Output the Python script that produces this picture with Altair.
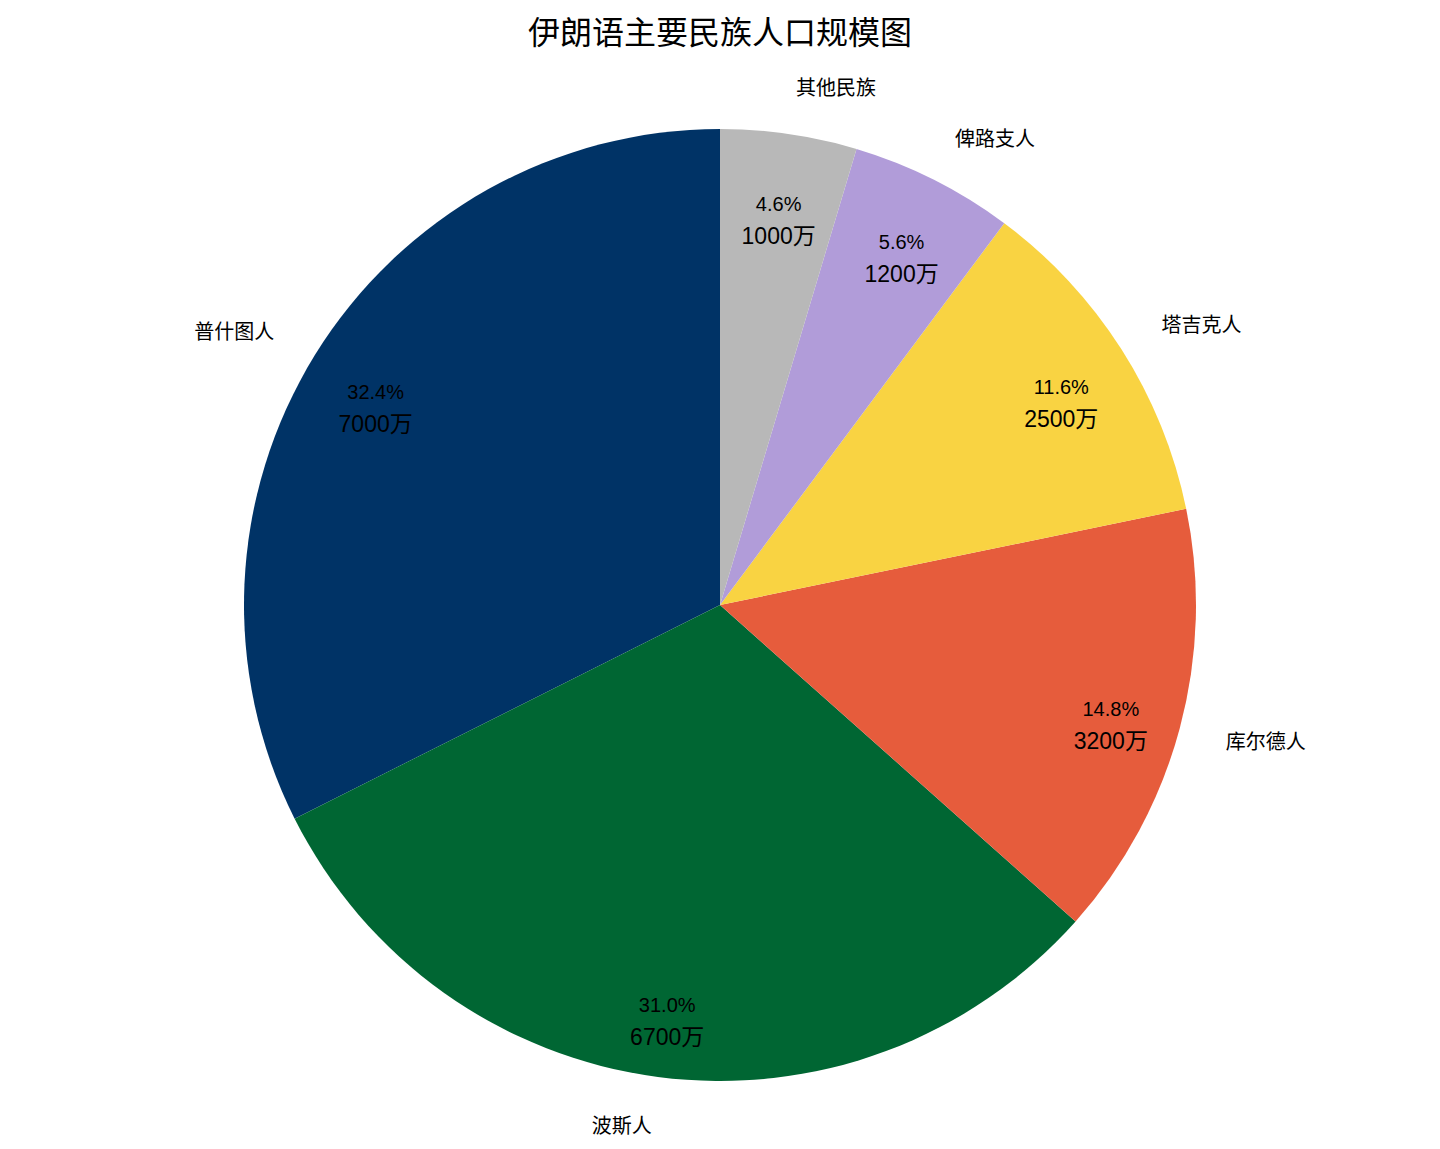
import altair as alt
import pandas as pd

names = ["普什图人", "波斯人", "库尔德人", "塔吉克人", "俾路支人", "其他民族"]
values = [7000, 6700, 3200, 2500, 1200, 1000]  # 单位：万
colors = ["#003366", "#006633", "#E65C3C", "#F9D342", "#B19CD9", "#B8B8B8"]

df = pd.DataFrame({"name": names, "value": values, "idx": list(range(len(names)))})

R = 476
num_font = "Liberation Sans, Noto Sans CJK SC"
cjk_font = "Noto Sans CJK SC"

base = (
    alt.Chart(df)
    .transform_joinaggregate(total="sum(value)")
    .transform_stack(
        stack="value",
        groupby=[],
        as_=["v0", "v1"],
        sort=[alt.SortField("idx", order="descending")],
    )
    .transform_calculate(
        mid="(datum.v0 + datum.v1) / 2",
        frac="(datum.v0 + datum.v1) / 2 / datum.total",
        pct="format(datum.value / datum.total * 100, '.1f') + '%'",
        amt="datum.value + '万'",
    )
)

theta_scale = alt.Scale(domain=[0, sum(values)], nice=False)

arcs = base.mark_arc(outerRadius=R, stroke=None).encode(
    theta=alt.Theta("v0:Q", scale=theta_scale),
    theta2="v1:Q",
    color=alt.Color("name:N", scale=alt.Scale(domain=names, range=colors), legend=None),
)

pct = base.mark_text(radius=0.85 * R, fontSize=20, font=num_font, color="black",
                     baseline="middle").encode(
    theta=alt.Theta("mid:Q", scale=theta_scale),
    text="pct:N",
)

amt = base.mark_text(radius=0.85 * R, dy=32, fontSize=23, font=num_font, color="black",
                     baseline="middle").encode(
    theta=alt.Theta("mid:Q", scale=theta_scale),
    text="amt:N",
)

lab_right = base.transform_filter("datum.frac < 0.5").mark_text(
    radius=1.1 * R, dy=2.5, fontSize=20, font=cjk_font, color="black", align="left",
    baseline="middle"
).encode(theta=alt.Theta("mid:Q", scale=theta_scale), text="name:N")

lab_left = base.transform_filter("datum.frac >= 0.5").mark_text(
    radius=1.1 * R, dy=2.5, fontSize=20, font=cjk_font, color="black", align="right",
    baseline="middle"
).encode(theta=alt.Theta("mid:Q", scale=theta_scale), text="name:N")

chart = (
    alt.layer(arcs, pct, amt, lab_right, lab_left)
    .properties(
        width=1424,
        height=1070,
        title=alt.TitleParams("伊朗语主要民族人口规模图", fontSize=32, font=cjk_font,
                              fontWeight="normal", anchor="middle", color="black", offset=19),
        padding={"top": 62, "left": 0, "right": 0, "bottom": 0},
        autosize=alt.AutoSizeParams(type="none"),
    )
    .configure_view(stroke=None)
)

chart.save("out.html", embed_options={"renderer": "svg", "actions": False})
